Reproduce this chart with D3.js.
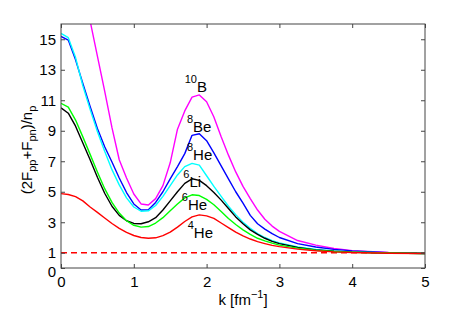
<!DOCTYPE html>
<html>
<head>
<meta charset="utf-8">
<script src="https://d3js.org/d3.v7.min.js"></script>
<style>
  body { margin: 0; background: #fff; }
  svg text { font-family: "Liberation Sans", Arial, sans-serif; fill: #000; }
</style>
</head>
<body>
<svg id="chart" width="469" height="310"></svg>
<script>
// momentum grid (fm^-1)
const kValues = [0, 0.1, 0.2, 0.3, 0.4, 0.5, 0.6, 0.7, 0.8, 0.9,
  1.0, 1.1, 1.2, 1.3, 1.4, 1.5, 1.6, 1.7, 1.8, 1.9,
  2.0, 2.1, 2.2, 2.3, 2.4, 2.5, 2.6, 2.7, 2.8, 2.9,
  3.0, 3.25, 3.5, 3.75, 4.0, 4.5, 5.0];

// values, one list per nucleus
const b10 = [22.2, 21.8, 20.6, 18.6, 16.2, 13.9, 11.6, 9.2, 7.1, 5.9,
  4.85, 4.2, 4.13, 4.55, 5.4, 6.9, 9.1, 10.3, 11.2, 11.35,
  10.9, 9.9, 8.6, 7.4, 6.3, 5.35, 4.55, 3.8, 3.2, 2.75,
  2.4, 1.8, 1.5, 1.28, 1.14, 1.02, 0.96];
const be8 = [15.18, 14.95, 13.65, 12.1, 10.6, 9.15, 7.95, 6.95, 5.9, 4.95,
  4.2, 3.8, 3.82, 4.3, 5.0, 5.85, 6.65, 7.5, 8.7, 8.8,
  8.35, 7.55, 6.7, 5.85, 5.0, 4.25, 3.45, 2.9, 2.55, 2.25,
  2.0, 1.6, 1.38, 1.22, 1.12, 1.01, 0.96];
const he8 = [15.38, 15.1, 13.8, 11.95, 10.4, 8.95, 7.65, 6.45, 5.45, 4.6,
  4.0, 3.72, 3.75, 4.1, 4.7, 5.4, 6.1, 6.65, 6.86, 6.75,
  6.05, 5.35, 4.7, 4.05, 3.5, 3.0, 2.6, 2.25, 2.0, 1.8,
  1.65, 1.38, 1.22, 1.12, 1.06, 0.99, 0.95];
const li6 = [10.5, 10.15, 9.3, 8.2, 7.1, 5.95, 4.9, 4.05, 3.45, 3.1,
  2.92, 2.9, 3.03, 3.3, 3.8, 4.4, 5.0, 5.55, 5.85, 5.75,
  5.4, 4.95, 4.45, 3.9, 3.35, 2.9, 2.5, 2.2, 1.95, 1.75,
  1.6, 1.35, 1.19, 1.1, 1.04, 0.98, 0.95];
const he6 = [10.8, 10.55, 9.7, 8.6, 7.45, 6.3, 5.2, 4.3, 3.6, 3.1,
  2.8, 2.68, 2.72, 2.95, 3.3, 3.75, 4.2, 4.6, 4.8, 4.75,
  4.5, 4.15, 3.7, 3.25, 2.85, 2.5, 2.2, 1.95, 1.78, 1.63,
  1.5, 1.3, 1.16, 1.08, 1.03, 0.98, 0.95];
const he4 = [4.88, 4.82, 4.68, 4.4, 4.0, 3.65, 3.28, 2.92, 2.6, 2.33,
  2.13, 2.0, 1.95, 1.98, 2.12, 2.35, 2.68, 3.05, 3.35, 3.48,
  3.42, 3.25, 2.95, 2.65, 2.35, 2.1, 1.9, 1.73, 1.6, 1.48,
  1.4, 1.24, 1.13, 1.06, 1.02, 0.97, 0.95];

const seriesValues = [b10, be8, he8, li6, he6, he4];
const seriesColors = ["#ff00ff", "#0000ff", "#00ffff", "#000000", "#00ff00", "#ff0000"];

// nucleus labels: mass number, symbol, anchor (k, value)
const labelMass = ["10", "8", "8", "6", "6", "4"];
const labelSymbol = ["B", "Be", "He", "Li", "He", "He"];
const labelK = [1.70, 1.73, 1.73, 1.68, 1.66, 1.74];
const labelV = [11.55, 8.91, 7.07, 5.3, 3.78, 1.94];

const xTicks = [0, 1, 2, 3, 4, 5];
const yTicks = [0, 1, 3, 5, 7, 9, 11, 13, 15];
const refLevel = 1;

const margin = { top: 24, right: 44, bottom: 42, left: 61 },
      width = 469 - margin.left - margin.right,
      height = 310 - margin.top - margin.bottom;

const svg = d3.select("#chart");
const g = svg.append("g").attr("transform", `translate(${margin.left},${margin.top})`);

const x = d3.scaleLinear().domain([0, 5]).range([0, width]);
const y = d3.scaleLinear().domain([0, 16]).range([height, 0]);

g.append("clipPath").attr("id", "plotclip")
  .append("rect").attr("width", width).attr("height", height);

const plot = g.append("g").attr("clip-path", "url(#plotclip)");

// dashed reference line
plot.append("line")
  .attr("x1", x(0)).attr("x2", x(5))
  .attr("y1", y(refLevel)).attr("y2", y(refLevel))
  .attr("stroke", "#ff0000").attr("stroke-width", 1.3)
  .attr("stroke-dasharray", "6,4");

const line = d3.line().x(d => x(d[0])).y(d => y(d[1]));

seriesValues.forEach((vals, i) => {
  plot.append("path")
    .datum(kValues.map((k, j) => [k, vals[j]]))
    .attr("fill", "none")
    .attr("stroke", seriesColors[i])
    .attr("stroke-width", 1.4)
    .attr("stroke-linejoin", "round")
    .attr("d", line);
});

// axes box with inward ticks
const axisColor = "#444";
g.append("rect").attr("width", width).attr("height", height)
  .attr("fill", "none").attr("stroke", axisColor).attr("stroke-width", 1);

function styleAxis(sel) {
  sel.select(".domain").remove();
  sel.selectAll(".tick line").attr("stroke", axisColor);
  sel.selectAll(".tick text").attr("font-size", 15).attr("fill", "#000")
    .style("font-family", "'Liberation Sans', Arial, sans-serif");
}

g.append("g").attr("transform", `translate(0,${height})`)
  .call(d3.axisBottom(x).tickValues(xTicks).tickSizeInner(-4).tickPadding(8).tickFormat(d3.format("d")))
  .call(styleAxis);
g.append("g")
  .call(d3.axisTop(x).tickValues(xTicks).tickSizeInner(-4).tickFormat(""))
  .call(styleAxis);
const yAxis = g.append("g")
  .call(d3.axisLeft(y).tickValues(yTicks).tickSizeInner(-4).tickPadding(5).tickFormat(d3.format("d")))
  .call(styleAxis);
// the "0" label sits a touch lower, as in the original
yAxis.selectAll(".tick text").filter(d => d === 0).attr("dy", "0.55em");
g.append("g").attr("transform", `translate(${width},0)`)
  .call(d3.axisRight(y).tickValues(yTicks).tickSizeInner(-4).tickFormat(""))
  .call(styleAxis);

// nucleus labels
labelSymbol.forEach((sym, i) => {
  const t = g.append("text")
    .attr("x", x(labelK[i])).attr("y", y(labelV[i]))
    .attr("font-size", 15);
  t.append("tspan").attr("font-size", 11).attr("dy", -9).text(labelMass[i]);
  t.append("tspan").attr("dy", 9).text(sym);
});

// x label
const xl = svg.append("text")
  .attr("x", margin.left + width / 2).attr("y", 305)
  .attr("text-anchor", "middle").attr("font-size", 15);
xl.append("tspan").text("k [fm");
xl.append("tspan").attr("font-size", 11).attr("dy", -7).text("\u22121");
xl.append("tspan").attr("dy", 7).text("]");

// y label
const yl = svg.append("text")
  .attr("transform", `translate(32,${margin.top + height / 2 + 4}) rotate(-90)`)
  .attr("text-anchor", "middle").attr("font-size", 15);
yl.append("tspan").text("(2F");
yl.append("tspan").attr("font-size", 11).attr("dy", 4).text("pp");
yl.append("tspan").attr("dy", -4).text("+F");
yl.append("tspan").attr("font-size", 11).attr("dy", 4).text("pn");
yl.append("tspan").attr("dy", -4).text(")/n");
yl.append("tspan").attr("font-size", 11).attr("dy", 4).text("p");
</script>
</body>
</html>
